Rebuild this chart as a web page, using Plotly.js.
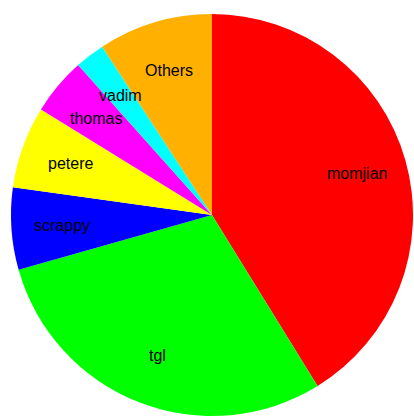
<!DOCTYPE html>
<html>
<head>
<meta charset="utf-8">
<script src="https://cdn.plot.ly/plotly-3.0.1.min.js"></script>
<style>html,body{margin:0;padding:0;background:#fff;}#chart{width:414px;height:416px;}</style>
</head>
<body>
<div id="chart"></div>
<script>
const labels = ["momjian", "tgl", "scrappy", "petere", "thomas", "vadim", "Others"];
const values = [41.2, 29.4, 6.6, 6.6, 4.6, 2.4, 9.2];
const colors = ["#FF0000", "#00FF00", "#0000FF", "#FFFF00", "#FF00FF", "#00FFFF", "#FFB000"];

const W = 414, H = 416;
const dom = {x: [11/W, 413/W], y: [0, 402/H]};

// label positions derived from the slice angles (R-style labels at 0.75 of radius)
const total = values.reduce((a, b) => a + b, 0);
const cxPx = (dom.x[0] + dom.x[1]) / 2 * W;
const cyPx = (1 - (dom.y[0] + dom.y[1]) / 2) * H;
const R = Math.min((dom.x[1] - dom.x[0]) * W, (dom.y[1] - dom.y[0]) * H) / 2;
let cum = 0;
const annotations = labels.map((lab, i) => {
  const mid = (cum + values[i] / 2) / total * 2 * Math.PI;
  cum += values[i];
  const px = cxPx + 0.75 * R * Math.sin(mid);
  const py = cyPx - 0.75 * R * Math.cos(mid);
  return {
    text: lab, x: px / W, y: 1 - py / H, xref: "paper", yref: "paper",
    showarrow: false, xanchor: "center", yanchor: "middle",
    font: {family: "Liberation Sans, Arial, sans-serif", size: 16, color: "#000"}
  };
});

Plotly.newPlot("chart", [{
  type: "pie",
  labels: labels,
  values: values,
  sort: false,
  direction: "clockwise",
  rotation: 0,
  marker: {colors: colors, line: {width: 0}},
  textinfo: "none",
  textposition: "none",
  hoverinfo: "label+percent",
  domain: dom
}], {
  width: W, height: H,
  margin: {l: 0, r: 0, t: 0, b: 0},
  showlegend: false,
  paper_bgcolor: "#fff",
  annotations: annotations
}, {displayModeBar: false, staticPlot: true});
</script>
</body>
</html>
